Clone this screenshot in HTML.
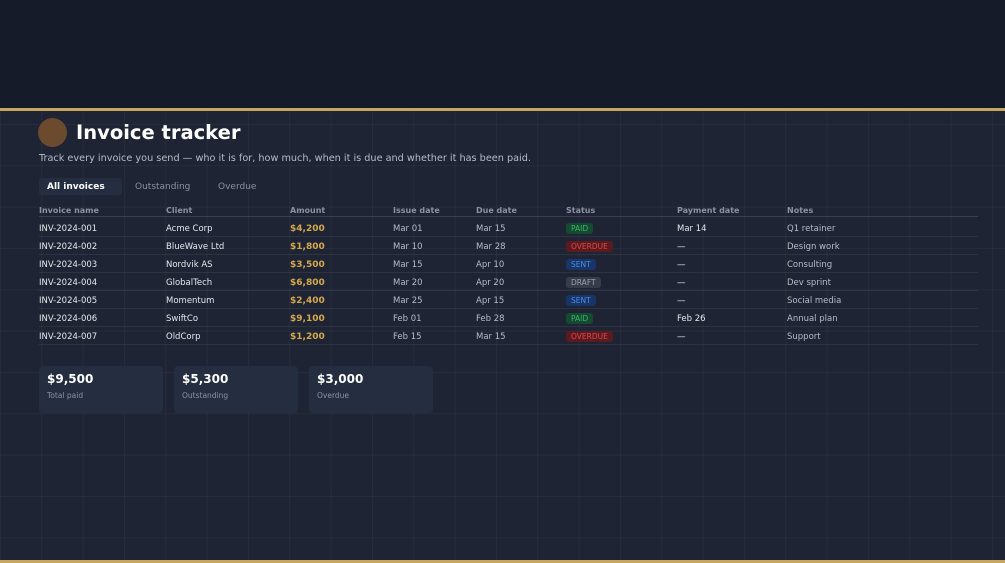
<!DOCTYPE html>
<html><head><meta charset="utf-8"><style>
*{margin:0;padding:0;box-sizing:border-box}
body{width:1005px;height:563px;overflow:hidden;background:#1e2433;font-family:"DejaVu Sans","Liberation Sans",sans-serif;position:relative}
.grid{position:absolute;left:0;top:111px;width:1005px;height:452px;background-image:linear-gradient(to right,rgba(255,255,255,0.035) 1px,transparent 1px),linear-gradient(to bottom,rgba(255,255,255,0.035) 1px,transparent 1px);background-size:41.33px 41.33px;background-position:0 -111px}
.top{position:absolute;left:0;top:0;width:1005px;height:108px;background:#161b29}
.gold{position:absolute;left:0;width:1005px;height:3px;background:#c8a662}
.a{position:absolute;white-space:nowrap}
.th{font-size:8px;font-weight:bold;color:#8a92a3;top:206px}
.td{font-size:8.5px;color:#e6e8ee}
.amt{color:#d4a94e;font-weight:bold;font-size:9px}
.dim{color:#b6bcc9}
.badge{font-size:7.5px;padding:1px 5px;border-radius:3px}
.paid{background:#134a30;color:#3fb36d}
.over{background:#5a1a1e;color:#e0484c}
.sent{background:#173566;color:#4d8ee8}
.draft{background:#363c4a;color:#9aa0ad}
.hl{position:absolute;left:39px;width:939px;height:1px;background:rgba(255,255,255,0.07)}
.card{position:absolute;top:366px;width:124px;height:47px;background:#252d40;border-radius:4px}
.card b{position:absolute;left:8px;top:6px;font-size:12px;color:#fff}
.card span{position:absolute;left:8px;top:25px;font-size:7.5px;color:#8a92a3}
</style></head><body>
<div class="top"></div>
<div class="grid"></div>
<div class="gold" style="top:108px"></div>
<div class="gold" style="top:560px"></div>
<div class="a" style="left:38px;top:118px;width:29px;height:29px;border-radius:50%;background:#6b4a2e"></div>
<div class="a" style="left:76px;top:121px;font-size:19.5px;font-weight:bold;color:#fff">Invoice tracker</div>
<div class="a" style="left:39px;top:153px;font-size:9.7px;color:#b6bcc9">Track every invoice you send — who it is for, how much, when it is due and whether it has been paid.</div>
<div class="a" style="left:39px;top:178px;width:83px;height:17px;background:#252d40;border-radius:3px"></div>
<div class="a" style="left:47px;top:182px;font-size:9px;font-weight:bold;color:#fff">All invoices</div>
<div class="a" style="left:135px;top:182px;font-size:9px;color:#8a92a3">Outstanding</div>
<div class="a" style="left:218px;top:182px;font-size:9px;color:#8a92a3">Overdue</div>

<div class="a th" style="left:39px">Invoice name</div>
<div class="a th" style="left:166px">Client</div>
<div class="a th" style="left:290px">Amount</div>
<div class="a th" style="left:393px">Issue date</div>
<div class="a th" style="left:476px">Due date</div>
<div class="a th" style="left:566px">Status</div>
<div class="a th" style="left:677px">Payment date</div>
<div class="a th" style="left:787px">Notes</div>
<div class="hl" style="top:216px;background:rgba(255,255,255,0.12)"></div>

<div id="rows"></div>
<script>
var R=[["INV-2024-001","Acme Corp","$4,200","Mar 01","Mar 15","paid","PAID","Mar 14","Q1 retainer"],
["INV-2024-002","BlueWave Ltd","$1,800","Mar 10","Mar 28","over","OVERDUE","—","Design work"],
["INV-2024-003","Nordvik AS","$3,500","Mar 15","Apr 10","sent","SENT","—","Consulting"],
["INV-2024-004","GlobalTech","$6,800","Mar 20","Apr 20","draft","DRAFT","—","Dev sprint"],
["INV-2024-005","Momentum","$2,400","Mar 25","Apr 15","sent","SENT","—","Social media"],
["INV-2024-006","SwiftCo","$9,100","Feb 01","Feb 28","paid","PAID","Feb 26","Annual plan"],
["INV-2024-007","OldCorp","$1,200","Feb 15","Mar 15","over","OVERDUE","—","Support"]];
var h="";R.forEach(function(r,i){var y=223+i*18;
h+='<div class="a td" style="left:39px;top:'+(y+1)+'px">'+r[0]+'</div>';
h+='<div class="a td" style="left:166px;top:'+(y+1)+'px">'+r[1]+'</div>';
h+='<div class="a td amt" style="left:290px;top:'+(y+1)+'px">'+r[2]+'</div>';
h+='<div class="a td dim" style="left:393px;top:'+(y+1)+'px">'+r[3]+'</div>';
h+='<div class="a td dim" style="left:476px;top:'+(y+1)+'px">'+r[4]+'</div>';
h+='<div class="a badge '+r[5]+'" style="left:566px;top:'+(y)+'px">'+r[6]+'</div>';
h+='<div class="a td" style="left:677px;top:'+(y+1)+'px">'+r[7]+'</div>';
h+='<div class="a td dim" style="left:787px;top:'+(y+1)+'px">'+r[8]+'</div>';
h+='<div class="hl" style="top:'+(y+13)+'px"></div>';});
document.getElementById("rows").innerHTML=h;
</script>
<div class="card" style="left:39px"><b>$9,500</b><span>Total paid</span></div>
<div class="card" style="left:174px"><b>$5,300</b><span>Outstanding</span></div>
<div class="card" style="left:309px"><b>$3,000</b><span>Overdue</span></div>
</body></html>
